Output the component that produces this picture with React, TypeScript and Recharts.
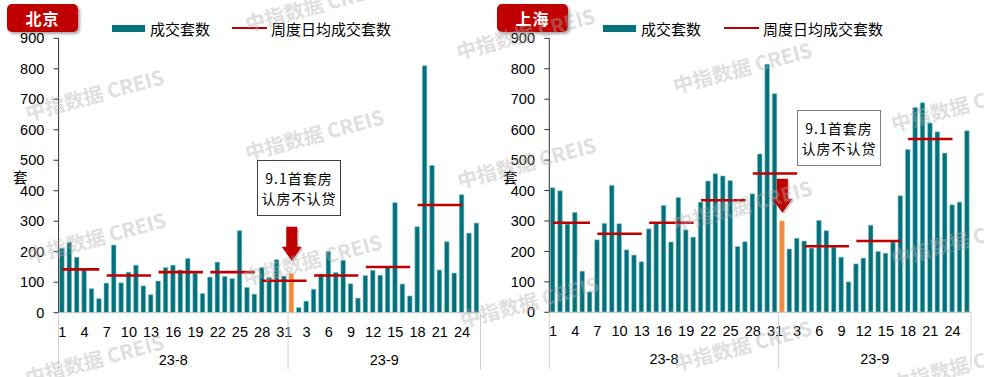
import React from "react";
import { ComposedChart, Bar, Line, XAxis, YAxis, Cell, ReferenceDot } from "recharts";

// ---------- data ----------
const augDays = ["1","2","3","4","5","6","7","8","9","10","11","12","13","14","15","16","17","18","19","20","21","22","23","24","25","26","27","28","29","30","31"];
const sepDays = ["1","2","3","4","5","6","7","8","9","10","11","12","13","14","15","16","17","18","19","20","21","22","23","24","25","26"];
const monthLabels = ["23-8", "23-9"];

const bjAug = [212,231,182,140,79,46,97,222,98,133,156,88,59,104,148,156,140,178,130,63,117,166,119,112,269,83,61,148,116,174,120];
const bjSep = [128,17,38,77,127,201,132,172,95,48,122,139,123,150,361,94,55,282,810,483,140,233,130,387,261,294];
const shAug = [409,399,290,328,135,67,238,292,417,291,205,188,166,274,295,351,231,377,271,247,362,431,455,448,433,216,232,389,520,815,718];
const shSep = [300,208,243,234,211,302,268,214,181,100,159,178,286,200,194,231,383,535,673,688,622,593,523,353,362,596];

// weeks (index ranges into the combined day list)
const weekStarts = [0, 6, 13, 20, 27, 34, 41, 48];
const weekEnds = [5, 12, 19, 26, 33, 40, 47, 54];
const bjWeekAvg = [142, 122, 133, 133, 105, 122, 150, 353];
const shWeekAvg = [294, 258, 294, 368, 456, 217, 234, 569];

const yTicks = [0, 100, 200, 300, 400, 500, 600, 700, 800, 900];
const highlightKey = "23-9-1";
const bjArrowTip = 170;
const shArrowTip = 327;

// ---------- styles ----------
const TEAL = "#02717B";
const ORANGE = "#F28A3C";
const RED = "#C00000";
const NUM_FONT = "'Liberation Sans', Arial, sans-serif";
const CJK_FONT = "'Noto Sans CJK SC', 'Noto Sans', sans-serif";

type Row = { key: string; day: string; month: number; v: number; avgA: number | null; avgB: number | null };

function buildRows(aug: number[], sep: number[], avgs: number[]): Row[] {
  const rows: Row[] = [];
  aug.forEach((v, i) => rows.push({ key: `${monthLabels[0]}-${augDays[i]}`, day: augDays[i], month: 0, v, avgA: null, avgB: null }));
  sep.forEach((v, i) => rows.push({ key: `${monthLabels[1]}-${sepDays[i]}`, day: sepDays[i], month: 1, v, avgA: null, avgB: null }));
  rows.forEach((r, i) => {
    const w = weekStarts.findIndex((s, k) => i >= s && i <= weekEnds[k]);
    if (w >= 0) {
      if (w % 2 === 0) r.avgA = avgs[w];
      else r.avgB = avgs[w];
    }
  });
  return rows;
}

const bjRows = buildRows(bjAug, bjSep, bjWeekAvg);
const shRows = buildRows(shAug, shSep, shWeekAvg);

const Arrow = (props: any) => {
  const { cx, cy } = props;
  if (cx == null || cy == null) return null;
  const headH = 14, headW = 10, shaftW = 5.5, shaftH = 20;
  const pts = (dx: number, dy: number) =>
    [
      [cx + dx, cy + dy],
      [cx + headW + dx, cy - headH + dy],
      [cx + shaftW + dx, cy - headH + dy],
      [cx + shaftW + dx, cy - headH - shaftH + dy],
      [cx - shaftW + dx, cy - headH - shaftH + dy],
      [cx - shaftW + dx, cy - headH + dy],
      [cx - headW + dx, cy - headH + dy],
    ]
      .map((p) => p.join(","))
      .join(" ");
  return (
    <g>
      <polygon points={pts(1.5, 1.5)} fill="#000" opacity={0.22} />
      <polygon points={pts(0, 0)} fill={RED} />
    </g>
  );
};

type PanelProps = {
  left: number;
  width: number;
  axisWidth: number;
  marginRight: number;
  plotBottom: number;
  rows: Row[];
  title: string;
  arrowTip: number;
  boxLeft: number;
  boxTop: number;
  boxBorder: string;
  legendLeft: number;
  legendGap: number;
};

function Panel(p: PanelProps) {
  const H = 377;
  const top = 38.3;
  const plotW = p.width - p.axisWidth - p.marginRight;
  const band = plotW / p.rows.length;
  const monthLen = (m: number) => p.rows.filter((r) => r.month === m).length;

  const renderTick = (props: any) => {
    const { x, payload } = props;
    const i = payload.index;
    const r = p.rows[i];
    if (!r) return <g />;
    const els: any[] = [];
    if (i % 3 === 0) {
      els.push(
        <text key="d" x={x} y={p.plotBottom + 24} textAnchor="middle" fontSize={14.5} fontFamily={NUM_FONT} fill="#000">
          {r.day}
        </text>
      );
    }
    if (i === 0 || p.rows[i - 1].month !== r.month) {
      const lx = x - band / 2;
      els.push(<line key="s" x1={lx} x2={lx} y1={p.plotBottom} y2={p.plotBottom + 57} stroke="#d0d0d0" strokeWidth={1} />);
      els.push(
        <text key="m" x={lx + (monthLen(r.month) * band) / 2} y={p.plotBottom + 52} textAnchor="middle" fontSize={14.5} fontFamily={NUM_FONT} fill="#000">
          {monthLabels[r.month]}
        </text>
      );
    }
    if (i === p.rows.length - 1) {
      const rx = x + band / 2;
      els.push(<line key="e" x1={rx} x2={rx} y1={p.plotBottom} y2={p.plotBottom + 57} stroke="#d0d0d0" strokeWidth={1} />);
    }
    return <g>{els}</g>;
  };

  return (
    <div style={{ position: "absolute", left: p.left, top: 0, width: p.width, height: H }}>
      <ComposedChart
        width={p.width}
        height={H}
        data={p.rows}
        margin={{ top, right: p.marginRight, bottom: 0, left: 0 }}
        barSize={4.6}
      >
        <XAxis
          dataKey="key"
          interval={0}
          height={H - p.plotBottom}
          tick={renderTick}
          tickLine={false}
          axisLine={{ stroke: "#c8c8c8" }}
        />
        <YAxis
          domain={[0, 900]}
          ticks={yTicks}
          width={p.axisWidth}
          tickSize={5}
          tickMargin={9.3}
          tickLine={{ stroke: "#333" }}
          axisLine={{ stroke: "#333" }}
          tick={{ fill: "#000", fontSize: 14.5, fontFamily: NUM_FONT }}
          interval={0}
        />
        <Bar dataKey="v" fill={TEAL} stroke="#8cc8cc" strokeWidth={0.6} isAnimationActive={false}>
          {p.rows.map((r) => (
            <Cell key={r.key} fill={r.key === highlightKey ? ORANGE : TEAL} stroke={r.key === highlightKey ? "#f7b07a" : "#8cc8cc"} />
          ))}
        </Bar>
        <Line
          dataKey="avgA"
          type="linear"
          stroke={RED}
          strokeWidth={2.6}
          dot={false}
          activeDot={false}
          connectNulls={false}
          isAnimationActive={false}
        />
        <Line
          dataKey="avgB"
          type="linear"
          stroke={RED}
          strokeWidth={2.6}
          dot={false}
          activeDot={false}
          connectNulls={false}
          isAnimationActive={false}
        />
        <ReferenceDot x={highlightKey} y={p.arrowTip} r={0} ifOverflow="visible" shape={Arrow} />
      </ComposedChart>

      {/* title */}
      <div
        style={{
          position: "absolute",
          left: 7,
          top: 4,
          width: 71,
          height: 28,
          background: RED,
          borderRadius: 5,
          boxShadow: "2px 2px 3px rgba(0,0,0,0.35)",
          color: "#fff",
          fontFamily: CJK_FONT,
          fontWeight: 700,
          fontSize: 16,
          letterSpacing: 1,
          lineHeight: "28px",
          textAlign: "center",
        }}
      >
        {p.title}
      </div>

      {/* y-axis unit */}
      <div style={{ position: "absolute", left: 13, top: 169, fontFamily: CJK_FONT, fontSize: 14.5, lineHeight: "15px", height: 15, color: "#000" }}>套</div>

      {/* legend */}
      <div style={{ position: "absolute", left: p.legendLeft, top: 19, height: 18, display: "flex", alignItems: "center", fontFamily: CJK_FONT, fontSize: 15, color: "#000", whiteSpace: "nowrap" }}>
        <span style={{ display: "inline-block", width: 33, height: 7, background: TEAL, marginRight: 5 }} />
        <span>成交套数</span>
        <span style={{ display: "inline-block", width: 35, height: 2, background: RED, marginLeft: p.legendGap, marginRight: 4 }} />
        <span>周度日均成交套数</span>
      </div>

      {/* annotation */}
      <div
        style={{
          position: "absolute",
          left: p.boxLeft,
          top: p.boxTop,
          width: 84,
          height: 56,
          boxSizing: "border-box",
          border: p.boxBorder,
          background: "#fff",
          display: "flex",
          flexDirection: "column",
          justifyContent: "center",
          alignItems: "center",
          fontFamily: CJK_FONT,
          fontSize: 14,
          lineHeight: "20px",
          letterSpacing: 1,
          color: "#000",
        }}
      >
        <div>9.1首套房</div>
        <div>认房不认贷</div>
      </div>
    </div>
  );
}

const WATERMARKS: [number, number][] = [
  [95, 97], [315, 8], [315, 137], [97, 240], [313, 262], [95, 362],
  [526, 36], [527, 165], [530, 304],
  [743, 70], [743, 208], [743, 348],
  [961, 108], [961, 243], [961, 368],
];

export default function App() {
  return (
    <div style={{ position: "absolute", left: 0, top: 0, width: 984, height: 377, background: "#fff", overflow: "hidden" }}>
      <Panel
        left={0}
        width={490}
        axisWidth={58.6}
        marginRight={9.5}
        plotBottom={312.7}
        rows={bjRows}
        title="北京"
        arrowTip={bjArrowTip}
        boxLeft={257}
        boxTop={160}
        boxBorder="1px solid #404040"
        legendLeft={112}
        legendGap={22}
      />
      <Panel
        left={490}
        width={494}
        axisWidth={59.3}
        marginRight={13}
        plotBottom={312.3}
        rows={shRows}
        title="上海"
        arrowTip={shArrowTip}
        boxLeft={307}
        boxTop={110}
        boxBorder="1.5px solid #808080"
        legendLeft={113}
        legendGap={23}
      />
      <svg width={984} height={377} style={{ position: "absolute", left: 0, top: 0, pointerEvents: "none" }}>
        {WATERMARKS.map(([x, y], i) => (
          <text
            key={i}
            x={x}
            y={y}
            transform={`rotate(-15 ${x} ${y})`}
            textAnchor="middle"
            dominantBaseline="middle"
            fontFamily={CJK_FONT}
            fontWeight={700}
            fontSize={20}
            fill="#b0b0b0"
            opacity={0.4}
          >
            中指数据 CREIS
          </text>
        ))}
      </svg>
    </div>
  );
}
